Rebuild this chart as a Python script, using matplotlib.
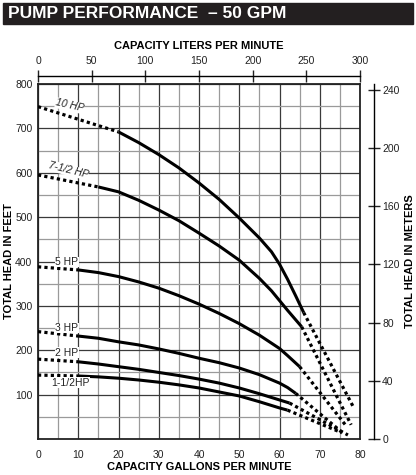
import matplotlib
matplotlib.use("Agg")
import matplotlib.pyplot as plt
from matplotlib.patches import Rectangle

plt.rcParams['font.family'] = ['Liberation Sans', 'DejaVu Sans']

# Curves: (gpm, head in feet). Dotted head, solid middle, dotted tail.
hp_labels = ["10 HP", "7-1/2 HP", "5 HP", "3 HP", "2 HP", "1-1/2HP"]

head_gpm = [[0, 20], [0, 15], [0, 10], [0, 10], [0, 10], [0, 10]]
head_ft = [[749, 692], [595, 568], [388, 381], [242, 232], [180, 174], [144, 142]]

solid_gpm = [
    [20, 25, 30, 35, 40, 45, 50, 55, 58, 60, 62, 64, 66],
    [15, 20, 25, 30, 35, 40, 45, 50, 55, 58, 60, 62, 65.5],
    [10, 15, 20, 25, 30, 35, 40, 45, 50, 55, 60, 62, 65],
    [10, 15, 20, 25, 30, 35, 40, 45, 50, 55, 60, 62, 64],
    [10, 15, 20, 25, 30, 35, 40, 45, 50, 55, 60, 62.5],
    [10, 15, 20, 25, 30, 35, 40, 45, 50, 55, 60, 62],
]
solid_ft = [
    [692, 668, 641, 611, 577, 540, 498, 453, 422, 394, 360, 323, 285],
    [568, 557, 538, 516, 492, 464, 435, 403, 362, 334, 312, 290, 253],
    [381, 375, 366, 354, 340, 323, 304, 283, 260, 234, 204, 188, 163],
    [232, 227, 219, 212, 203, 193, 182, 172, 160, 145, 126, 116, 103],
    [174, 169, 163, 157, 150, 143, 135, 126, 115, 102, 88, 81],
    [142, 140, 137, 133, 128, 122, 115, 106, 97, 84, 70, 65],
]

tail_gpm = [[66, 78.3], [65.5, 77.8], [65, 76.7], [64, 75.8], [62.5, 77], [62, 75.5]]
tail_ft = [[285, 73], [253, 32], [163, 28], [103, 13], [81, 9], [65, 14]]

# label positions (gpm, ft) and rotation
label_pos = [(7.9, 751), (7.5, 606), (7.2, 399), (7.2, 250), (7.2, 194), (8.0, 127)]
label_rot = [-13, -14, 0, 0, 0, 0]

gpm_ticks = list(range(0, 81, 10))
ft_ticks = list(range(100, 801, 100))
lpm_ticks = list(range(0, 301, 50))
m_ticks = list(range(0, 241, 40))

fig = plt.figure(figsize=(4.16, 4.75), dpi=100)
ax = fig.add_axes([38 / 416, 1 - 439 / 475, 322 / 416, 355 / 475])

# title bar
fig.patches.append(Rectangle((3 / 416, 1 - 24 / 475), 410 / 416, 21 / 475,
                             transform=fig.transFigure, color="#231f20", zorder=0))
fig.text(8 / 416, 1 - 14 / 475, "PUMP PERFORMANCE  \u2013 50 GPM", color="white",
         fontsize=12.5, fontweight="bold", va="center", ha="left")

ax.set_xlim(0, 80)
ax.set_ylim(0, 800)
ax.set_xticks(gpm_ticks)
ax.set_xticks(range(5, 80, 10), minor=True)
ax.set_yticks(ft_ticks)
ax.set_yticks(range(50, 800, 100), minor=True)
ax.tick_params(which="both", length=0, labelsize=7.5, colors="#222222", pad=4)
ax.tick_params(axis="x", pad=8)
ax.grid(which="major", color="#3a3a3a", lw=0.9)
ax.grid(which="minor", color="#9a9a9a", lw=0.9)
for s in ax.spines.values():
    s.set_linewidth(1.3)
    s.set_color("#222222")
ax.set_xlabel("CAPACITY GALLONS PER MINUTE", fontsize=8, fontweight="bold", labelpad=1)
ax.set_ylabel("TOTAL HEAD IN FEET", fontsize=8, fontweight="bold", labelpad=1)

for i in range(len(hp_labels)):
    ax.plot(head_gpm[i], head_ft[i], color="black", lw=2.3, ls=(0, (1, 1)),
            dash_capstyle="butt", zorder=3)
    ax.plot(solid_gpm[i], solid_ft[i], color="black", lw=2.2, zorder=3,
            solid_capstyle="butt", solid_joinstyle="round")
    ax.plot(tail_gpm[i], tail_ft[i], color="black", lw=2.3, ls=(0, (1, 1)),
            dash_capstyle="butt", zorder=3)
    ax.text(label_pos[i][0], label_pos[i][1], hp_labels[i], fontsize=7.5,
            rotation=label_rot[i], ha="center", va="center", color="#222222",
            style="italic" if label_rot[i] else "normal", zorder=4,
            bbox=dict(facecolor="white", edgecolor="none", pad=0.3))

# top axis: liters per minute
ax2 = ax.twiny()
ax2.set_xlim(0, 80 * 3.75)
ax2.set_xticks(lpm_ticks)
for k in ["bottom", "left", "right"]:
    ax2.spines[k].set_visible(False)
ax2.spines["top"].set_position(("outward", 6))
ax2.spines["top"].set_linewidth(1.0)
ax2.tick_params(direction="inout", length=8, width=1.0, labelsize=7.5, pad=3, colors="#222222")
ax2.set_xlabel("CAPACITY LITERS PER MINUTE", fontsize=8, fontweight="bold", labelpad=5)

# right axis: meters
ax3 = ax.twinx()
ax3.set_ylim(0, 800 / 3.2808)
ax3.set_yticks(m_ticks)
for k in ["bottom", "left", "top"]:
    ax3.spines[k].set_visible(False)
ax3.spines["right"].set_position(("outward", 10))
ax3.spines["right"].set_linewidth(1.0)
ax3.tick_params(direction="inout", length=8, width=1.0, labelsize=7.5, pad=2, colors="#222222")
ax3.set_ylabel("TOTAL HEAD IN METERS", fontsize=8, fontweight="bold", labelpad=4)

fig.savefig("out.png", dpi=100)
